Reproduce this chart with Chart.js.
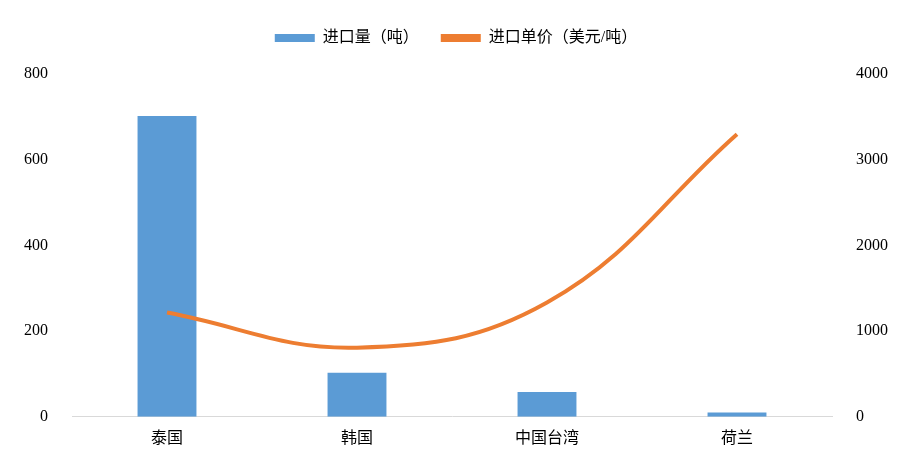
<!DOCTYPE html><html><head><meta charset="utf-8"><script src="https://cdn.jsdelivr.net/npm/chart.js@4"></script>
<style>body{margin:0;background:#fff}#w{width:912px;height:462px}</style></head><body><div id="w"><canvas id="c"></canvas></div>
<script>
const categories=['泰国','韩国','中国台湾','荷兰'];
const volume=[702,103,58,10];
const price=[1216,807,1333,3298];
const F='"Liberation Serif","Noto Sans CJK SC",serif';
const legendPad={id:'lp',beforeInit(ch){const f=ch.legend.fit;ch.legend.fit=function(){f.bind(ch.legend)();this.height+=18;};}};
new Chart(document.getElementById('c'),{data:{labels:categories,datasets:[
{type:'line',label:'进口单价（美元/吨）',data:price,yAxisID:'y1',borderColor:'#ED7D31',backgroundColor:'#ED7D31',borderWidth:4,pointRadius:0,tension:0.4,order:0},
{type:'bar',label:'进口量（吨）',data:volume,yAxisID:'y',backgroundColor:'#5B9BD5',barPercentage:0.31,categoryPercentage:1,order:1}]},
options:{responsive:true,maintainAspectRatio:false,animation:false,
layout:{padding:{left:8,right:8,top:8,bottom:2}},
plugins:{legend:{labels:{font:{family:F,size:16},color:'#000',boxWidth:40,boxHeight:8,padding:22,
generateLabels(ch){return ch.data.datasets.map((d,i)=>({text:d.label,fillStyle:d.type==='line'?'#ED7D31':'#5B9BD5',strokeStyle:'transparent',lineWidth:0,datasetIndex:i})).reverse();}}}},
scales:{x:{grid:{display:false,drawTicks:false},border:{color:'#d9d9d9'},ticks:{font:{family:F,size:16},color:'#000',padding:12}},
y:{min:0,max:800,ticks:{stepSize:200,font:{family:F,size:16},color:'#000',padding:16,callback:v=>String(v)},grid:{display:false},border:{display:false}},
y1:{position:'right',min:0,max:4000,ticks:{stepSize:1000,font:{family:F,size:16},color:'#000',padding:16,callback:v=>String(v)},grid:{display:false},border:{display:false}}}},
plugins:[legendPad]});
</script></body></html>
